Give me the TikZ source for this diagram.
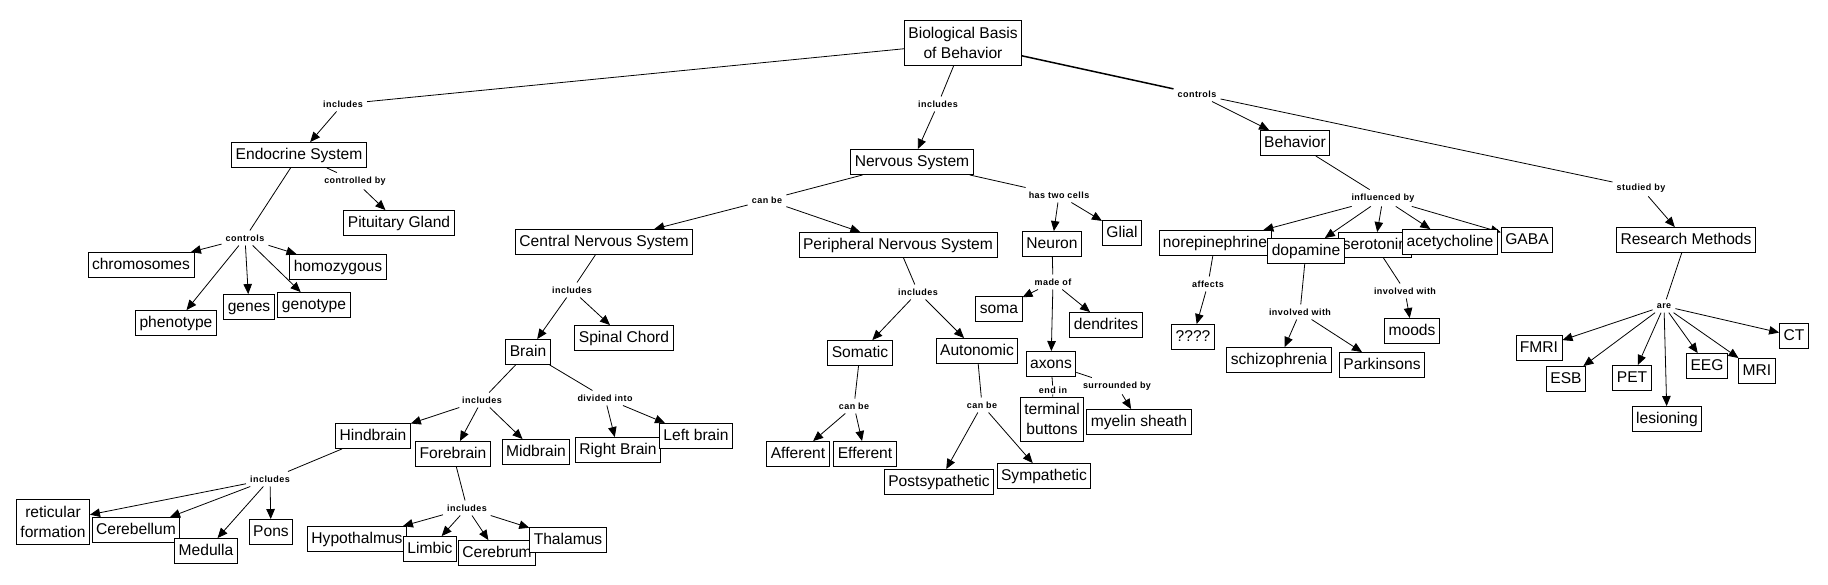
\documentclass[tikz,border=0pt]{standalone}
\usepackage{fontspec}
\setmainfont{Liberation Sans}
\newfontfamily\lblfamily[LetterSpace=5]{Liberation Sans}
\newcommand\boxfont{\fontsize{15.6}{19.5}\selectfont}
\newcommand\lblfont{\lblfamily\bfseries\fontsize{9}{10}\selectfont}
\usetikzlibrary{arrows.meta,backgrounds}
\tikzset{
  cbox/.style={draw, line width=0.9pt, fill=white, inner xsep=4pt, inner ysep=0pt,
    minimum height=25pt, font=\boxfont, text height=11.5pt, text depth=3pt},
  cboxtwo/.style={draw, line width=0.9pt, fill=white, inner xsep=4pt, inner ysep=2pt,
    minimum height=45pt, font=\boxfont, align=center},
  lbl/.style={font=\lblfont, inner sep=4pt},
  ln/.style={line width=0.8pt},
  arr/.style={line width=0.8pt, -{Triangle[length=10pt,width=8.5pt]}}
}
\begin{document}
\begin{tikzpicture}[x=1pt,y=-1pt]
\useasboundingbox (0,0) rectangle (1828,585);

% ---- concept boxes ----
\node[cboxtwo] (root) at (963,43) {Biological Basis\\of Behavior};
\node[cbox] (endo) at (299,155) {Endocrine System};
\node[cbox] (pit) at (399,223) {Pituitary Gland};
\node[cbox] (chrom) at (141,265) {chromosomes};
\node[cbox] (homo) at (338,267) {homozygous};
\node[cbox] (genes) at (249,307) {genes};
\node[cbox] (genot) at (314,305) {genotype};
\node[cbox] (pheno) at (176,323) {phenotype};

\node[cbox] (nerv) at (912,162) {Nervous System};
\node[cbox] (cns) at (604,242) {Central Nervous System};
\node[cbox] (pns) at (898,245) {Peripheral Nervous System};
\node[cbox] (brain) at (528,352) {Brain};
\node[cbox] (spinal) at (624,338) {Spinal Chord};
\node[cbox] (hind) at (373,436) {Hindbrain};
\node[cbox] (fore) at (453,454) {Forebrain};
\node[cbox] (mid) at (536,452) {Midbrain};
\node[cbox] (rbrain) at (618,450) {Right Brain};
\node[cbox] (lbrain) at (696,436) {Left brain};
\node[cboxtwo] (retic) at (53,522) {reticular\\formation};
\node[cbox] (cereb) at (136,530) {Cerebellum};
\node[cbox] (medul) at (206,551) {Medulla};
\node[cbox] (pons) at (271,532) {Pons};
\node[cbox] (hypo) at (357,539) {Hypothalmus};
\node[cbox] (limb) at (430,549) {Limbic};
\node[cbox] (cerebr) at (497,553) {Cerebrum};
\node[cbox] (thal) at (568,540) {Thalamus};
\node[cbox] (soma) at (860,353) {Somatic};
\node[cbox] (auto) at (977,351) {Autonomic};
\node[cbox] (aff) at (798,454) {Afferent};
\node[cbox] (eff) at (865,454) {Efferent};
\node[cbox] (post) at (939,482) {Postsypathetic};
\node[cbox] (symp) at (1044,476) {Sympathetic};
\node[cbox] (neuron) at (1052,244) {Neuron};
\node[cbox] (glial) at (1122,233) {Glial};
\node[cbox] (somab) at (999,309) {soma};
\node[cbox] (dend) at (1106,325) {dendrites};
\node[cbox] (axons) at (1051,364) {axons};
\node[cboxtwo, minimum height=44pt] (term) at (1052,419) {terminal\\buttons};
\node[cbox] (myel) at (1139,422) {myelin sheath};

\node[cbox] (behav) at (1295,143) {Behavior};
\node[cbox] (norep) at (1215,243) {norepinephrine};
\node[cbox] (sero) at (1375,245) {serotonin};
\node[cbox] (dopa) at (1306,251) {dopamine};
\node[cbox] (acet) at (1450,242) {acetycholine};
\node[cbox] (gaba) at (1527,240) {GABA};
\node[cbox] (qq) at (1193,337) {????};
\node[cbox] (schiz) at (1279,360) {schizophrenia};
\node[cbox] (park) at (1382,365) {Parkinsons};
\node[cbox] (moods) at (1412,331) {moods};

\node[cbox] (res) at (1686,240) {Research Methods};
\node[cbox] (fmri) at (1539,348) {FMRI};
\node[cbox] (esb) at (1566,379) {ESB};
\node[cbox] (pet) at (1632,378) {PET};
\node[cbox] (les) at (1667,419) {lesioning};
\node[cbox] (eeg) at (1707,366) {EEG};
\node[cbox] (mri) at (1757,371) {MRI};
\node[cbox] (ct) at (1794,336) {CT};

% ---- link labels ----
\node[lbl] (l1) at (343,104) {includes};
\node[lbl] (l2) at (938,104) {includes};
\node[lbl] (l3) at (1197,94) {controls};
\node[lbl] (l4) at (355,181) {controlled by};
\node[lbl] (l5) at (245,238) {controls};
\node[lbl] (l6) at (767,200) {can be};
\node[lbl] (l7) at (1059,195) {has two cells};
\node[lbl] (l8) at (572,290) {includes};
\node[lbl] (l9) at (918,292) {includes};
\node[lbl] (l10) at (482,400) {includes};
\node[lbl] (l11) at (605,398) {divided into};
\node[lbl] (l12) at (270,479) {includes};
\node[lbl] (l13) at (467,508) {includes};
\node[lbl] (l14) at (854,406) {can be};
\node[lbl] (l15) at (982,405) {can be};
\node[lbl] (l16) at (1053,282) {made of};
\node[lbl, inner sep=1pt] (l17) at (1053,390) {end in};
\node[lbl] (l18) at (1117,386) {surrounded by};
\node[lbl] (l19) at (1383,198) {influenced by};
\node[lbl] (l20) at (1208,284) {affects};
\node[lbl] (l21) at (1300,312) {involved with};
\node[lbl] (l22) at (1405,291) {involved with};
\node[lbl] (l23) at (1641,188) {studied by};
\node[lbl] (l24) at (1664,306) {are};

% ---- connectors ----
\begin{scope}[on background layer]
\draw[ln] (root) -- (l1);
\draw[arr] (l1) -- (endo);
\draw[ln] (root) -- (l2);
\draw[arr] (l2) -- (nerv);
\draw[ln, line width=1.5pt] (root) -- (l3);
\draw[arr] (l3) -- (behav);
\draw[ln] (l3) -- (l23);
\draw[arr] (l23) -- (res);

\draw[ln] (endo) -- (l4);
\draw[arr] (l4) -- (pit);
\draw[ln] (endo) -- (l5);
\draw[arr] (l5) -- (chrom);
\draw[arr] (l5) -- (pheno);
\draw[arr] (l5) -- (genes);
\draw[arr] (l5) -- (genot);
\draw[arr] (l5) -- (homo);

\draw[ln] (nerv) -- (l6);
\draw[arr] (l6) -- (cns);
\draw[arr] (l6) -- (pns);
\draw[ln] (nerv) -- (l7);
\draw[arr] (l7) -- (neuron);
\draw[arr] (l7) -- (glial);

\draw[ln] (cns) -- (l8);
\draw[arr] (l8) -- (brain);
\draw[arr] (l8) -- (spinal);
\draw[ln] (pns) -- (l9);
\draw[arr] (l9) -- (soma);
\draw[arr] (l9) -- (auto);

\draw[ln] (brain) -- (l10);
\draw[arr] (l10) -- (hind);
\draw[arr] (l10) -- (fore);
\draw[arr] (l10) -- (mid);
\draw[ln] (brain) -- (l11);
\draw[arr] (l11) -- (rbrain);
\draw[arr] (l11) -- (lbrain);

\draw[ln] (hind) -- (l12);
\draw[arr] (l12) -- (retic);
\draw[arr] (l12) -- (cereb);
\draw[arr] (l12) -- (medul);
\draw[arr] (l12) -- (pons);
\draw[ln] (fore) -- (l13);
\draw[arr] (l13) -- (hypo);
\draw[arr] (l13) -- (limb);
\draw[arr] (l13) -- (cerebr);
\draw[arr] (l13) -- (thal);

\draw[ln] (soma) -- (l14);
\draw[arr] (l14) -- (aff);
\draw[arr] (l14) -- (eff);
\draw[ln] (auto) -- (l15);
\draw[arr] (l15) -- (post);
\draw[arr] (l15) -- (symp);

\draw[ln] (neuron) -- (l16);
\draw[arr] (l16) -- (somab);
\draw[arr] (l16) -- (axons);
\draw[arr] (l16) -- (dend);
\draw[ln] (axons) -- (l17);
\draw[ln] (l17) -- (term);
\draw[ln] (axons) -- (l18);
\draw[arr] (l18) -- (myel);

\draw[ln] (behav) -- (l19);
\draw[arr] (l19) -- (norep);
\draw[arr] (l19) -- (dopa);
\draw[arr] (l19) -- (sero);
\draw[arr] (l19) -- (acet);
\draw[arr] (l19) -- (gaba);
\draw[ln] (norep) -- (l20);
\draw[arr] (l20) -- (qq);
\draw[ln] (dopa) -- (l21);
\draw[arr] (l21) -- (schiz);
\draw[arr] (l21) -- (park);
\draw[ln] (sero) -- (l22);
\draw[arr] (l22) -- (moods);

\draw[ln] (res) -- (l24);
\draw[arr] (l24) -- (fmri);
\draw[arr] (l24) -- (esb);
\draw[arr] (l24) -- (pet);
\draw[arr] (l24) -- (les);
\draw[arr] (l24) -- (eeg);
\draw[arr] (l24) -- (mri);
\draw[arr] (l24) -- (ct);
\end{scope}
\end{tikzpicture}
\end{document}
